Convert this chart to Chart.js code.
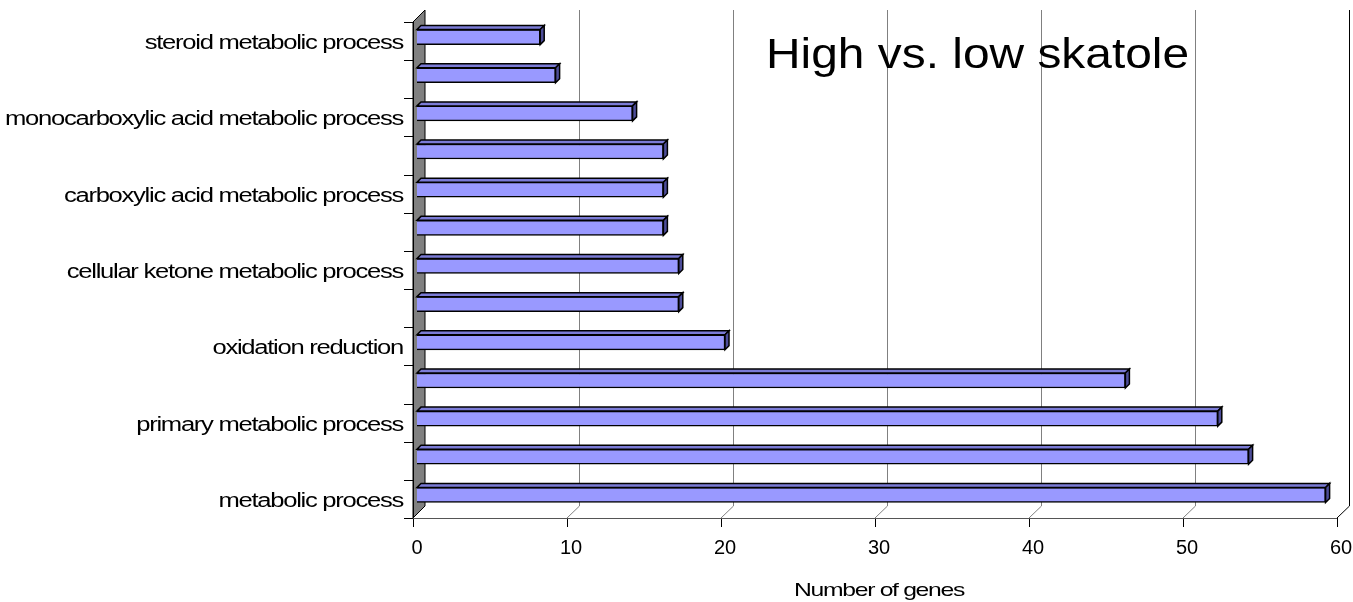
<!DOCTYPE html>
<html lang="en">
<head>
  <meta charset="UTF-8" />
  <title>High vs. low skatole</title>
  <script src="https://cdn.jsdelivr.net/npm/chart.js"></script>
  <style>
    body { margin: 0; background: #fff; }
    #wrap { width: 1353px; height: 602px; }
  </style>
</head>
<body>
  <div id="wrap"><canvas id="goChart"></canvas></div>

  <script>
    // categories, top to bottom (unlabelled ones were skipped by the original axis)
    const categories = [
      'steroid metabolic process',
      '',
      'monocarboxylic acid metabolic process',
      '',
      'carboxylic acid metabolic process',
      '',
      'cellular ketone metabolic process',
      '',
      'oxidation reduction',
      '',
      'primary metabolic process',
      '',
      'metabolic process'
    ];
    const geneCounts = [8, 9, 14, 16, 16, 16, 17, 17, 20, 46, 52, 54, 59];
    const xTicks = [0, 10, 20, 30, 40, 50, 60];
    const chartTitle = 'High vs. low skatole';
    const axisTitle = 'Number of genes';

    const FONT = '"Liberation Sans", Arial, sans-serif';
    const DEPTH = 4;     // bar depth
    const WALL = 8;      // back wall offset from bar plane
    const FRONT = 4;     // front frame offset from bar plane

    function stretchedText(ctx, text, x, y, size, sx, align, spacing) {
      ctx.save();
      ctx.font = size + 'px ' + FONT;
      ctx.fillStyle = '#000';
      ctx.textAlign = align;
      ctx.textBaseline = 'alphabetic';
      ctx.letterSpacing = (spacing || 0) + 'px';
      ctx.translate(x, y);
      ctx.scale(sx, 1);
      ctx.fillText(text, 0, 0);
      ctx.restore();
    }

    const frame3d = {
      id: 'frame3d',
      beforeDatasetsDraw(chart) {
        const ctx = chart.ctx;
        const xs = chart.scales.x;
        const a = chart.chartArea;
        const x0 = xs.getPixelForValue(xTicks[0]);
        const xMax = xs.getPixelForValue(xTicks[xTicks.length - 1]);
        ctx.save();
        ctx.lineWidth = 1;

        // back wall gridlines + floor diagonals + front tick marks
        xTicks.forEach((v, i) => {
          const px = xs.getPixelForValue(v);
          const last = i === xTicks.length - 1;
          ctx.strokeStyle = last ? '#000' : '#808080';
          ctx.beginPath();
          if (i > 0) {
            ctx.moveTo(Math.round(px + WALL) + 0.5, a.top - WALL);
            ctx.lineTo(Math.round(px + WALL) + 0.5, a.bottom - WALL);
            ctx.lineTo(px - FRONT, a.bottom + FRONT);
          }
          ctx.stroke();
          ctx.strokeStyle = '#000';
          ctx.beginPath();
          ctx.moveTo(Math.round(px - FRONT) + 0.5, a.bottom + FRONT);
          ctx.lineTo(Math.round(px - FRONT) + 0.5, a.bottom + FRONT + 9);
          ctx.stroke();
        });

        // floor front edge
        ctx.strokeStyle = '#555';
        ctx.beginPath();
        ctx.moveTo(x0 - FRONT, Math.round(a.bottom + FRONT) + 0.5);
        ctx.lineTo(xMax - FRONT, Math.round(a.bottom + FRONT) + 0.5);
        ctx.stroke();

        // grey side wall
        ctx.fillStyle = '#808080';
        ctx.strokeStyle = '#000';
        ctx.beginPath();
        ctx.moveTo(x0 - FRONT, a.bottom + FRONT);
        ctx.lineTo(x0 - FRONT, a.top + FRONT);
        ctx.lineTo(x0 + WALL, a.top - WALL);
        ctx.lineTo(x0 + WALL, a.bottom - WALL);
        ctx.closePath();
        ctx.fill();
        ctx.stroke();

        // category tick marks on the front axis
        const band = (a.bottom - a.top) / categories.length;
        ctx.beginPath();
        for (let k = 0; k <= categories.length; k++) {
          const y = Math.round(a.top + FRONT + k * band) + 0.5;
          ctx.moveTo(x0 - FRONT - 9, y);
          ctx.lineTo(x0 - FRONT, y);
        }
        ctx.moveTo(Math.round(x0 - FRONT) + 0.5, a.top + FRONT);
        ctx.lineTo(Math.round(x0 - FRONT) + 0.5, a.bottom + FRONT);
        ctx.stroke();
        ctx.restore();
      },
      afterDatasetsDraw(chart) {
        const ctx = chart.ctx;
        const meta = chart.getDatasetMeta(0);
        ctx.save();
        ctx.lineWidth = 1.5;
        ctx.strokeStyle = '#000';
        meta.data.forEach(el => {
          const p = el.getProps(['x', 'y', 'base', 'height'], true);
          const top = p.y - p.height / 2, bot = p.y + p.height / 2;
          // top face
          ctx.fillStyle = '#7b7bd6';
          ctx.beginPath();
          ctx.moveTo(p.base, top);
          ctx.lineTo(p.base + DEPTH, top - DEPTH);
          ctx.lineTo(p.x + DEPTH, top - DEPTH);
          ctx.lineTo(p.x, top);
          ctx.closePath();
          ctx.fill(); ctx.stroke();
          // side face
          ctx.fillStyle = '#4d4d99';
          ctx.beginPath();
          ctx.moveTo(p.x, top);
          ctx.lineTo(p.x + DEPTH, top - DEPTH);
          ctx.lineTo(p.x + DEPTH, bot - DEPTH);
          ctx.lineTo(p.x, bot);
          ctx.closePath();
          ctx.fill(); ctx.stroke();
        });
        ctx.restore();

        // category labels (every other one in the original)
        const ys = chart.scales.y;
        const xLab = chart.scales.x.getPixelForValue(0) - FRONT - 10;
        categories.forEach((c, i) => {
          if (!c) return;
          stretchedText(ctx, c, xLab, ys.getPixelForValue(i) + FRONT + 8, 20, 1.28, 'right', -1);
        });

        stretchedText(ctx, chartTitle, 766, 68, 42, 1.14, 'left', 0);
        const mid = (chart.scales.x.getPixelForValue(0) + chart.scales.x.getPixelForValue(60)) / 2;
        stretchedText(ctx, axisTitle, mid, 596, 19, 1.3, 'center', -1);
      }
    };

    new Chart(document.getElementById('goChart'), {
      type: 'bar',
      data: {
        labels: categories,
        datasets: [{
          label: 'Number of genes',
          data: geneCounts,
          backgroundColor: '#9999ff',
          borderColor: '#000',
          borderWidth: 1.5,
          barThickness: 15
        }]
      },
      options: {
        indexAxis: 'y',
        responsive: true,
        maintainAspectRatio: false,
        animation: false,
        layout: { padding: { top: 18, right: 12, left: 0, bottom: 0 } },
        plugins: {
          legend: { display: false },
          tooltip: { enabled: false },
          title: { display: false }
        },
        scales: {
          x: {
            min: 0,
            max: 60,
            afterBuildTicks: s => { s.ticks = xTicks.map(v => ({ value: v })); },
            grid: { display: false, drawTicks: false },
            border: { display: false },
            ticks: {
              color: '#000',
              padding: 22,
              font: { family: FONT, size: 20 }
            },
            afterFit: s => { s.height = 88; s.paddingLeft = 0; s.paddingRight = 0; }
          },
          y: {
            grid: { display: false, drawTicks: false },
            border: { display: false },
            ticks: { display: false },
            afterFit: s => { s.width = 417; s.paddingTop = 0; s.paddingBottom = 0; }
          }
        }
      },
      plugins: [frame3d]
    });
  </script>
</body>
</html>
